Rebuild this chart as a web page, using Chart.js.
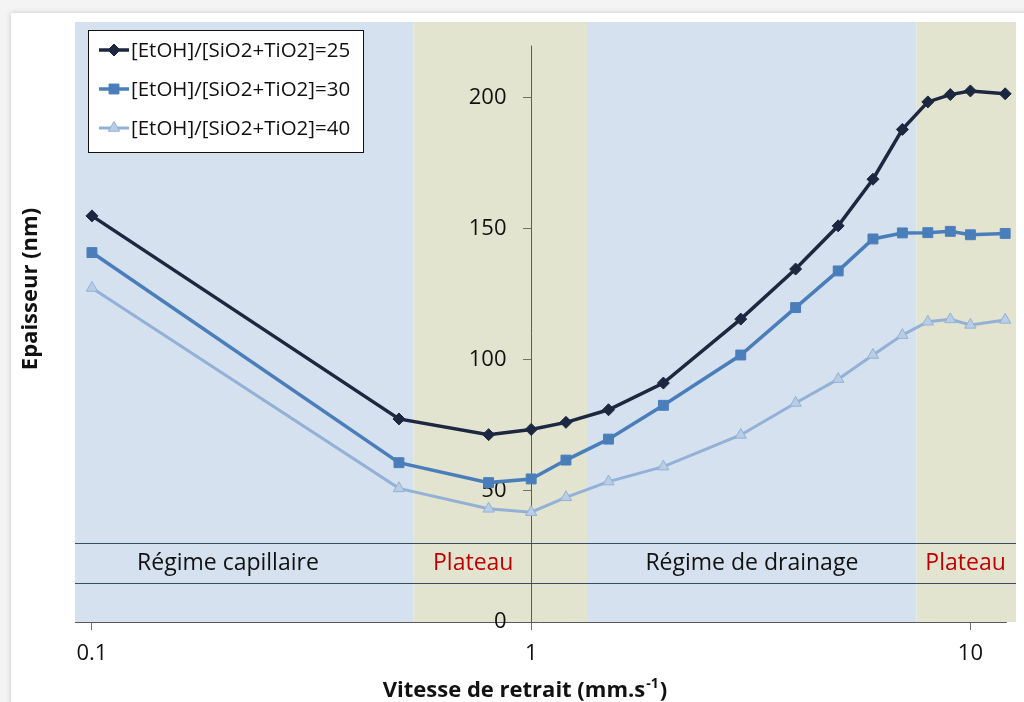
<!DOCTYPE html>
<html lang="fr">
<head>
<meta charset="utf-8">
<title>Epaisseur en fonction de la vitesse de retrait</title>
<script src="https://cdn.jsdelivr.net/npm/chart.js@4/dist/chart.umd.min.js"></script>
<style>
  html, body { margin: 0; padding: 0; background: #f4f4f4; }
  #wrap { width: 1024px; height: 702px; }
</style>
</head>
<body>
<div id="wrap"><canvas id="c" width="1024" height="702"></canvas></div>
<script>
// Withdrawal speeds (mm/s) and film thickness (nm) for three EtOH ratios
const speeds = [0.1, 0.5, 0.8, 1, 1.2, 1.5, 2, 3, 4, 5, 6, 7, 8, 9, 10, 12];
const ep25 = [155, 77.5, 71.5, 73.5, 76.2, 81, 91.2, 115.6, 134.7, 151.2, 169, 188, 198.5, 201.3, 202.7, 201.6];
const ep30 = [141, 60.8, 53.2, 54.6, 61.8, 69.8, 82.7, 101.9, 120, 134, 146.2, 148.5, 148.6, 149.1, 147.8, 148.3];
const ep40 = [127.5, 51, 43.2, 41.9, 47.6, 53.6, 59.3, 71.4, 83.6, 92.7, 101.9, 109.5, 114.6, 115.5, 113.4, 115.3];
const seriesLabels = ['[EtOH]/[SiO2+TiO2]=25', '[EtOH]/[SiO2+TiO2]=30', '[EtOH]/[SiO2+TiO2]=40'];

// Axis ranges and ticks
const xMin = 0.0915, xMax = 12.7, xAxisEnd = 12.1;
const xTicks = [0.1, 1, 10];
const yMin = 0, yMax = 229, yAxisTop = 220;
const yTicks = [0, 50, 100, 150, 200];

// Drainage regimes: band edges along x, names, label anchors, kind
const regimeEdges = [0.0915, 0.54, 1.34, 7.54, 12.7];
const regimeNames = ['Régime capillaire', 'Plateau', 'Régime de drainage', 'Plateau'];
const regimeLabelX = [0.204, 0.738, 3.18, 9.75];
const regimeKinds = ['regime', 'plateau', 'regime', 'plateau'];
const stripLow = 15, stripHigh = 30;

const FONT = "'Open Sans', 'Noto Sans', sans-serif";
const COLORS = {
  bandRegime: '#D5E1EF',
  bandPlateau: '#E2E4D0',
  axis: '#5a5a5a',
  tick: '#6f6f6f',
  text: '#111111',
  plateau: '#C00000',
  strip: '#3A4C60'
};

const series = [
  { label: seriesLabels[0], values: ep25, line: '#1D2840', fill: '#1D2840', style: 'rectRot', radius: 6, width: 3.5 },
  { label: seriesLabels[1], values: ep30, line: '#4A7EBB', fill: '#4A7EBB', style: 'rect', radius: 7, width: 3.5 },
  { label: seriesLabels[2], values: ep40, line: '#93B1D6', fill: '#B9CDE5', style: 'triangle', radius: 6.5, width: 3 }
];

const decor = {
  id: 'decor',
  beforeDraw(chart) {
    const { ctx, chartArea: a, scales: { x } } = chart;
    ctx.save();
    ctx.fillStyle = '#f4f4f4';
    ctx.fillRect(0, 0, chart.width, chart.height);
    // white sheet with a soft shadow
    ctx.shadowColor = 'rgba(0,0,0,0.18)';
    ctx.shadowBlur = 6;
    ctx.fillStyle = '#ffffff';
    ctx.fillRect(11, 13, chart.width + 20, chart.height + 20);
    ctx.shadowColor = 'transparent';
    ctx.shadowBlur = 0;
    // regime bands
    for (let i = 0; i < regimeNames.length; i++) {
      const x0 = x.getPixelForValue(regimeEdges[i]);
      const x1 = x.getPixelForValue(regimeEdges[i + 1]);
      ctx.fillStyle = regimeKinds[i] === 'plateau' ? COLORS.bandPlateau : COLORS.bandRegime;
      ctx.fillRect(x0, a.top, x1 - x0, a.bottom - a.top);
    }
    ctx.restore();
  },
  beforeDatasetsDraw(chart) {
    const { ctx, chartArea: a, scales: { x, y } } = chart;
    ctx.save();
    // horizontal axis line
    const by = Math.round(a.bottom) + 0.5;
    ctx.strokeStyle = COLORS.axis;
    ctx.lineWidth = 1;
    ctx.beginPath();
    ctx.moveTo(a.left, by);
    ctx.lineTo(x.getPixelForValue(xAxisEnd), by);
    ctx.stroke();
    // vertical axis crossing at x = 1
    const ax = Math.round(x.getPixelForValue(1)) + 0.5;
    ctx.beginPath();
    ctx.moveTo(ax, y.getPixelForValue(yAxisTop));
    ctx.lineTo(ax, a.bottom);
    ctx.stroke();
    // its tick labels, left of the tick marks
    ctx.font = `22px ${FONT}`;
    ctx.fillStyle = COLORS.text;
    ctx.textAlign = 'right';
    ctx.textBaseline = 'middle';
    yTicks.forEach(v => ctx.fillText(String(v), ax - 25, y.getPixelForValue(v)));
    // strip holding regime names
    ctx.strokeStyle = COLORS.strip;
    ctx.lineWidth = 1.2;
    [stripLow, stripHigh].forEach(v => {
      const py = Math.round(y.getPixelForValue(v)) + 0.5;
      ctx.beginPath();
      ctx.moveTo(a.left, py);
      ctx.lineTo(a.right, py);
      ctx.stroke();
    });
    ctx.font = `23px ${FONT}`;
    ctx.textAlign = 'center';
    const ly = y.getPixelForValue((stripLow + stripHigh) / 2);
    regimeNames.forEach((name, i) => {
      ctx.fillStyle = regimeKinds[i] === 'plateau' ? COLORS.plateau : COLORS.text;
      ctx.fillText(name, x.getPixelForValue(regimeLabelX[i]), ly);
    });
    ctx.restore();
  },
  afterDraw(chart) {
    const { ctx } = chart;
    ctx.save();
    // legend
    const bx = 88.5, by = 30.5, bw = 275, bh = 122;
    ctx.fillStyle = '#ffffff';
    ctx.fillRect(bx, by, bw, bh);
    ctx.strokeStyle = '#111';
    ctx.lineWidth = 1;
    ctx.strokeRect(bx, by, bw, bh);
    ctx.font = `20.5px ${FONT}`;
    ctx.textAlign = 'left';
    ctx.textBaseline = 'middle';
    chart.data.datasets.forEach((ds, i) => {
      const cy = 50 + i * 39;
      ctx.strokeStyle = ds.borderColor;
      ctx.lineWidth = ds.borderWidth;
      ctx.beginPath();
      ctx.moveTo(99, cy);
      ctx.lineTo(129, cy);
      ctx.stroke();
      ctx.fillStyle = ds.pointBackgroundColor;
      ctx.strokeStyle = ds.pointBorderColor;
      ctx.lineWidth = 1;
      Chart.helpers.drawPoint(ctx, { pointStyle: ds.pointStyle, radius: ds.pointRadius, borderWidth: 1, rotation: 0 }, 114, cy);
      ctx.fillStyle = COLORS.text;
      ctx.fillText(ds.label, 131, cy + 1);
    });
    // axis titles
    ctx.fillStyle = COLORS.text;
    ctx.textBaseline = 'alphabetic';
    const main = 'Vitesse de retrait (mm.s';
    const sup = '-1';
    const close = ')';
    ctx.font = `bold 22px ${FONT}`;
    const wMain = ctx.measureText(main).width;
    const wClose = ctx.measureText(close).width;
    ctx.font = `bold 14px ${FONT}`;
    const wSup = ctx.measureText(sup).width;
    const tx = 524 - (wMain + wSup + wClose) / 2;
    const ty = 697;
    ctx.font = `bold 22px ${FONT}`;
    ctx.fillText(main, tx, ty);
    ctx.font = `bold 14px ${FONT}`;
    ctx.fillText(sup, tx + wMain + 1, ty - 9);
    ctx.font = `bold 22px ${FONT}`;
    ctx.fillText(close, tx + wMain + wSup + 2, ty);

    ctx.translate(31, 289);
    ctx.rotate(-Math.PI / 2);
    ctx.textAlign = 'center';
    ctx.textBaseline = 'middle';
    ctx.font = `bold 22px ${FONT}`;
    ctx.fillText('Epaisseur (nm)', 0, 0);
    ctx.restore();
  }
};

new Chart(document.getElementById('c'), {
  type: 'line',
  data: {
    datasets: series.map(s => ({
      label: s.label,
      data: speeds.map((v, i) => ({ x: v, y: s.values[i] })),
      borderColor: s.line,
      backgroundColor: s.fill,
      borderWidth: s.width,
      pointStyle: s.style,
      pointRadius: s.radius,
      pointBackgroundColor: s.fill,
      pointBorderColor: s.line,
      pointBorderWidth: 1,
      tension: 0,
      fill: false
    }))
  },
  options: {
    responsive: false,
    animation: false,
    events: [],
    layout: { padding: { left: 75, right: 6, top: 22, bottom: 0 } },
    plugins: { legend: { display: false }, tooltip: { enabled: false } },
    scales: {
      x: {
        type: 'logarithmic',
        min: xMin,
        max: xMax,
        position: 'bottom',
        afterBuildTicks: s => { s.ticks = xTicks.map(v => ({ value: v })); },
        afterFit: s => { s.height = 80; },
        grid: { drawOnChartArea: false, drawTicks: true, tickLength: 8, color: COLORS.tick },
        border: { display: false },
        ticks: {
          font: { family: FONT, size: 22 },
          color: COLORS.text,
          padding: 11,
          maxRotation: 0,
          autoSkip: false,
          callback: v => String(v)
        }
      },
      y: {
        type: 'linear',
        min: yMin,
        max: yMax,
        position: { x: 1 },
        afterBuildTicks: s => { s.ticks = yTicks.map(v => ({ value: v })); },
        grid: { drawOnChartArea: false, drawTicks: true, tickLength: 8, color: COLORS.tick },
        border: { display: false },
        ticks: { display: false }
      }
    }
  },
  plugins: [decor]
});
</script>
</body>
</html>
